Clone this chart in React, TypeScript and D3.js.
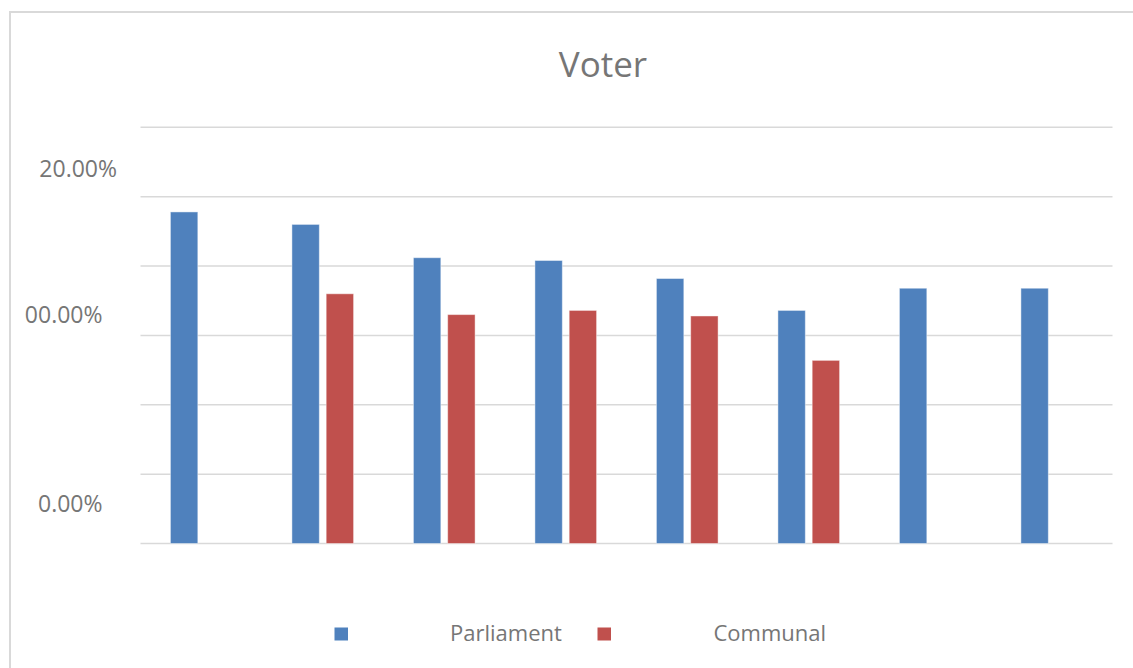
import React from "react";
import * as d3 from "d3";

// Eight groups, two series (share of voters)
const categories = ["1", "2", "3", "4", "5", "6", "7", "8"];
const seriesNames = ["Parliament", "Communal"];
const parliament = [0.239, 0.230, 0.206, 0.204, 0.191, 0.168, 0.184, 0.184];
const communal: (number | null)[] = [null, 0.180, 0.165, 0.168, 0.164, 0.132, null, null];

// Gridline values and the axis captions with the value each one sits at
const gridValues = [0, 0.05, 0.1, 0.15, 0.2, 0.25, 0.3];
const axisLabels = ["20.00%", "00.00%", "0.00%"];
const axisLabelValues = [0.27, 0.165, 0.0285];

const W = 1133;
const H = 668;
const COLORS = ["#4F81BD", "#C0504D"];
const TEXT = "#767676";
const GRID = "#d9d9d9";
const FONT = "'Open Sans', 'Noto Sans', sans-serif";

export default function App() {
  const plot = { left: 140.5, right: 1112.5, top: 127.3, bottom: 543.5 };

  const x0 = d3.scaleBand<string>().domain(categories).range([plot.left, plot.right]).padding(0);
  const x1 = d3
    .scaleBand<string>()
    .domain(seriesNames)
    .range([0, x0.bandwidth()])
    .paddingInner(0.2)
    .paddingOuter(0.873);
  const y = d3.scaleLinear().domain([0, 0.3]).range([plot.bottom, plot.top]);

  const series = [parliament, communal];
  const labelRight = [117, 102.5, 102.5];
  const labelBaselineShift = 8.5;

  return (
    <svg
      width={W}
      height={H}
      style={{ position: "absolute", left: 0, top: 0, display: "block", background: "#fff" }}
    >
      {/* chart frame */}
      <path d={`M10,${H + 10} V12 H${W + 10}`} fill="none" stroke={GRID} strokeWidth={2} />

      <text x={603} y={77} textAnchor="middle" fontFamily={FONT} fontSize={35} fill={TEXT}>
        Voter
      </text>

      {gridValues.map((v) => (
        <line
          key={v}
          x1={plot.left}
          x2={plot.right}
          y1={y(v)}
          y2={y(v)}
          stroke={GRID}
          strokeWidth={1.5}
        />
      ))}

      {axisLabels.map((t, i) => (
        <text
          key={t + i}
          x={labelRight[i]}
          y={y(axisLabelValues[i]) + labelBaselineShift}
          textAnchor="end"
          fontFamily={FONT}
          fontSize={23}
          fill={TEXT}
        >
          {t}
        </text>
      ))}

      {categories.map((c, ci) => (
        <g key={c} transform={`translate(${x0(c)},0)`}>
          {series.map((vals, si) => {
            const v = vals[ci];
            if (v == null) return null;
            return (
              <rect
                key={si}
                x={x1(seriesNames[si])}
                y={y(v)}
                width={x1.bandwidth()}
                height={y(0) - y(v)}
                fill={COLORS[si]}
                stroke="#ffffff"
                strokeOpacity={0.45}
                strokeWidth={1}
              />
            );
          })}
        </g>
      ))}

      {/* legend */}
      {seriesNames.map((name, i) => {
        const sx = [334.5, 597.5][i];
        const tx = [450, 713.5][i];
        return (
          <g key={name}>
            <rect x={sx} y={627.5} width={13.5} height={13} fill={COLORS[i]} />
            <text x={tx} y={641} fontFamily={FONT} fontSize={22} fill={TEXT}>
              {name}
            </text>
          </g>
        );
      })}
    </svg>
  );
}
